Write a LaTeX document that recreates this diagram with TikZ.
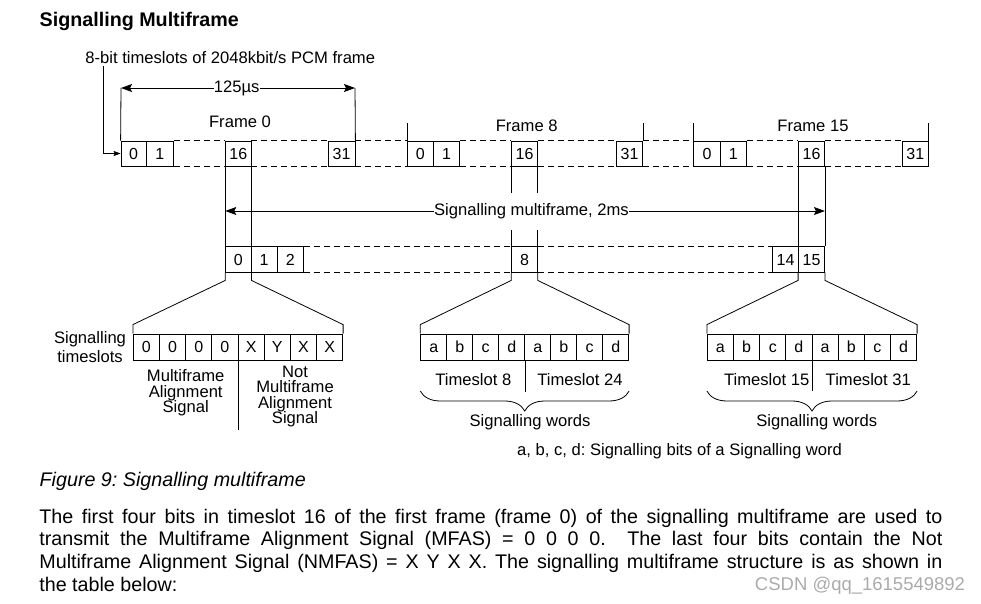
\documentclass[tikz,border=0pt]{standalone}
\usepackage{fontspec}
\setmainfont{Liberation Sans}
\usetikzlibrary{arrows.meta,decorations.pathreplacing}
\newcommand\cellbox[6]{\node[cell, minimum width={(#3)-(#2)}, minimum height={(#5)-(#4)}] (#1) at ({((#2)+(#3))/2},{((#4)+(#5))/2}) {#6};}
\begin{document}
\frenchspacing
\begin{tikzpicture}[x=1pt,y=-1pt, line width=0.8pt,
  cell/.style={draw, inner sep=0pt, text height=11.5pt, text depth=0pt, font=\fontsize{16}{18}\selectfont},
  lbl/.style={inner sep=0pt, font=\fontsize{16.6}{19}\selectfont},
  dsh/.style={dash pattern=on 6pt off 4pt},
  arr/.style={-{Stealth[length=11pt,width=8pt,inset=2pt]}},
  sarr/.style={-{Stealth[length=7pt,width=5pt,inset=1pt]}},
  brc/.style={decorate, decoration={brace, amplitude=20pt, mirror}}
]
\useasboundingbox (0,0) rectangle (981,604);

% title
\node[anchor=west, inner sep=0pt, font=\fontsize{19.7}{22}\selectfont\bfseries] (title) at (39.3,21) {Signalling Multiframe};

% top row
\cellbox{a0}{121}{146.3}{141}{166}{0}
\cellbox{a1}{146.3}{173.3}{141}{166}{1}
\cellbox{a16}{225.7}{251}{141}{166}{16}
\cellbox{a31}{328}{355}{141}{166}{31}
\cellbox{b0}{407.3}{433.3}{141}{166}{0}
\cellbox{b1}{433.3}{459.7}{141}{166}{1}
\cellbox{b16}{511.7}{537.3}{141}{166}{16}
\cellbox{b31}{616.3}{642.7}{141}{166}{31}
\cellbox{c0}{693.7}{720.3}{141}{166}{0}
\cellbox{c1}{720.3}{746.3}{141}{166}{1}
\cellbox{c16}{798.5}{824.5}{141}{166}{16}
\cellbox{c31}{902.3}{928.3}{141}{166}{31}
\foreach \p/\q in {a1/a16,a16/a31,a31/b0,b1/b16,b16/b31,b31/c0,c1/c16,c16/c31}{
  \draw[dsh] (\p.north east) -- (\q.north west);
  \draw[dsh] (\p.south east) -- (\q.south west);
}

% leader
\node[lbl, anchor=west] (lead) at (85,58) {8-bit timeslots of 2048kbit/s PCM frame};
\coordinate (ls) at (103.3,66.5);
\coordinate (lk) at (103.3,153.5);
\draw[sarr] (ls) -- (lk) -- (a0.west);

% frame 0 period
\coordinate (t0l) at (121,88);
\coordinate (t0r) at (355,88);
\draw (a0.north west) -- (t0l);
\draw (a31.north east) -- (t0r);
\node[lbl] (t125) at (236.7,88.5) {125µs};
\draw[arr] (t125.west |- t0l) -- (t0l);
\draw[arr] (t125.east |- t0r) -- (t0r);
\node[lbl] (f0) at (240,121.5) {Frame 0};

% frame 8 / 15 marks
\draw (b0.north west) -- ++(0,-18);
\draw (b31.north east) -- ++(0,-18);
\draw (c0.north west) -- ++(0,-18);
\draw (c31.north east) -- ++(0,-18);
\node[lbl] (f8) at (526.7,126) {Frame 8};
\node[lbl] (f15) at (813,126) {Frame 15};

% second row
\cellbox{r0}{225.7}{251}{246.7}{272}{0}
\cellbox{r1}{251}{277.3}{246.7}{272}{1}
\cellbox{r2}{277.3}{303.3}{246.7}{272}{2}
\cellbox{r8}{511.7}{537.3}{246.7}{272}{8}
\cellbox{r14}{772.5}{798.5}{246.7}{272}{14}
\cellbox{r15}{798.5}{824.5}{246.7}{272}{15}
\foreach \p/\q in {r2/r8,r8/r14}{
  \draw[dsh] (\p.north east) -- (\q.north west);
  \draw[dsh] (\p.south east) -- (\q.south west);
}

% vertical links
\coordinate (gy1) at (0,193);
\coordinate (gy2) at (0,230);
\draw (a16.south west) -- (r0.north west);
\draw (a16.south east) -- (r0.north east);
\draw (b16.south west) -- (b16.south west |- gy1);
\draw (b16.south east) -- (b16.south east |- gy1);
\draw (r8.north west |- gy2) -- (r8.north west);
\draw (r8.north east |- gy2) -- (r8.north east);
\draw (c16.south west) -- (r15.north west);
\draw (c16.south east) -- (r15.north east);

% multiframe arrow
\node[lbl] (smf) at (531.5,211) {Signalling multiframe, 2ms};
\draw[arr] (smf.west) -- (smf.west -| r0.west);
\draw[arr] (smf.east) -- (smf.east -| r15.east);

% third row
\foreach \t [count=\i] in {0,0,0,0,X,Y,X,X}{
  \cellbox{m\i}{133.3+(\i-1)*26.175}{133.3+\i*26.175}{334}{360.3}{\t}
}
\foreach \t [count=\i] in {a,b,c,d,a,b,c,d}{
  \cellbox{w\i}{420.7+(\i-1)*26}{420.7+\i*26}{334}{360.3}{\t}
}
\foreach \t [count=\i] in {a,b,c,d,a,b,c,d}{
  \cellbox{v\i}{707.3+(\i-1)*26.175}{707.3+\i*26.175}{334}{360.3}{\t}
}

% fans
\draw (r0.south west) -- ++(0,8) -- ([yshift=9pt]m1.north west) -- (m1.north west);
\draw (r0.south east) -- ++(0,8) -- ([yshift=9pt]m8.north east) -- (m8.north east);
\draw (r8.south west) -- ++(0,8) -- ([yshift=9pt]w1.north west) -- (w1.north west);
\draw (r8.south east) -- ++(0,8) -- ([yshift=9pt]w8.north east) -- (w8.north east);
\draw (r15.south west) -- ++(0,8) -- ([yshift=9pt]v1.north west) -- (v1.north west);
\draw (r15.south east) -- ++(0,8) -- ([yshift=9pt]v8.north east) -- (v8.north east);

% dividers
\draw (m4.south east) -- ++(0,69.7);
\draw (w4.south east) -- ++(0,31.4);
\draw (v4.south east) -- ++(0,30.4);

% labels
\node[lbl, align=center] (sts) at (90,347.5) {Signalling\\timeslots};
\node[lbl, align=center, font=\fontsize{16.6}{15.7}\selectfont] (mas) at (185.7,393) {Multiframe\\Alignment\\Signal};
\node[lbl, align=center, font=\fontsize{16.6}{15.5}\selectfont] (nmas) at (295,396.5) {Not\\Multiframe\\Alignment\\Signal};
\node[lbl] (ts8) at (473.3,380) {Timeslot 8};
\node[lbl] (ts24) at (580,380) {Timeslot 24};
\node[lbl] (ts15) at (766.7,380) {Timeslot 15};
\node[lbl] (ts31) at (868.3,380) {Timeslot 31};

% braces
\coordinate (by) at (0,391);
\draw[brc] (w1.south west |- by) -- (w8.south east |- by);
\draw[brc] (v1.south west |- by) -- (v8.south east |- by);
\node[lbl] (sw1) at (530,422) {Signalling words};
\node[lbl] (sw2) at (816.7,422) {Signalling words};
\node[lbl, anchor=west] (legend) at (516.7,451) {a, b, c, d: Signalling bits of a Signalling word};

% caption and text
\node[anchor=west, inner sep=0pt, font=\fontsize{19.7}{23}\selectfont\itshape] (cap) at (39.3,481.5) {Figure 9: Signalling multiframe};
\node[anchor=north west, inner sep=0pt, text width=903pt, align=justify, font=\fontsize{19.7}{22.8}\selectfont] (para) at (39,508.5) {The first four bits in timeslot 16 of the first frame (frame 0) of the signalling multiframe are used to\linebreak transmit the Multiframe Alignment Signal (MFAS) = 0 0 0 0.\ \ The last four bits contain the Not\linebreak Multiframe Alignment Signal (NMFAS) = X Y X X. The signalling multiframe structure is as shown in\linebreak the table below:};
\node[inner sep=0pt, text=black!33, font=\fontsize{18.5}{20}\selectfont] (wm) at (860,586) {CSDN @qq\_1615549892};
\end{tikzpicture}
\end{document}
